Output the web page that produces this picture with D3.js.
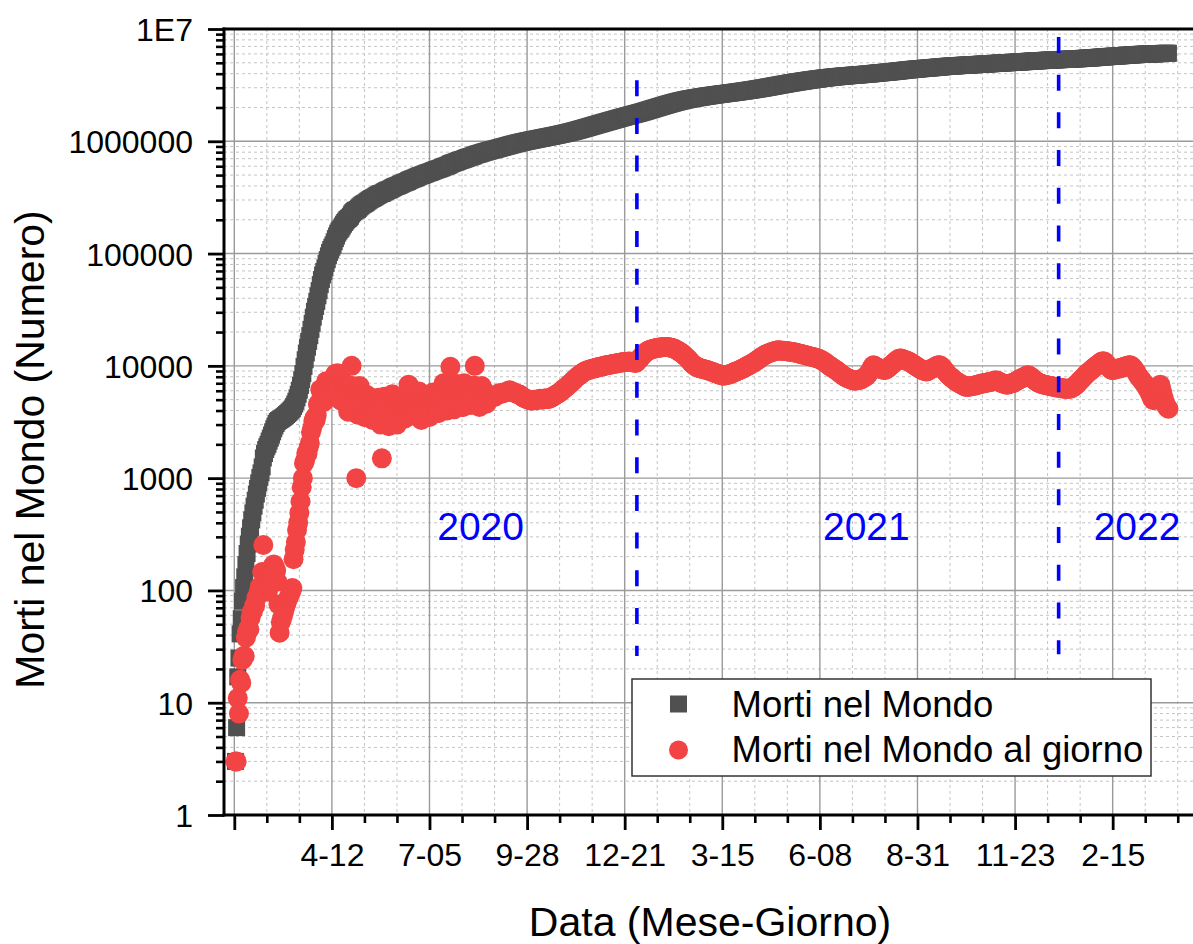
<!DOCTYPE html>
<html><head><meta charset="utf-8">
<script src="https://cdn.jsdelivr.net/npm/d3@7"></script>
<style>
html,body{margin:0;padding:0;background:#fff;}
svg{display:block;font-family:"Liberation Sans",Arial,Helvetica,sans-serif;}
</style></head><body>
<svg id="chart" width="1193" height="944"></svg>
<script>
// ---------------- data ----------------
const seriesNames = ["Morti nel Mondo", "Morti nel Mondo al giorno"];
// x = day number (day 1 = first data row); major ticks every 84 days
const tickDays = [0, 84, 168, 252, 336, 420, 504, 588, 672, 756];
const tickLabels = ["", "4-12", "7-05", "9-28", "12-21", "3-15", "6-08", "8-31", "11-23", "2-15"];
const minorTickStep = 28;
const yTickValues = [1, 10, 100, 1000, 10000, 100000, 1000000, 10000000];
const yTickLabels = ["1", "10", "100", "1000", "10000", "100000", "1000000", "1E7"];
const yearLabels = ["2020", "2021", "2022"];
const yearLabelDays = [212, 544, 777];
const yearLabelLevel = 280;
const yearBoundaryDays = [346.5, 709.5];
const yearBoundaryTop = [3.5e6, 8.5e6];
const yearBoundaryBottom = [26, 27];

// daily deaths (one value per day, day 1..804)
const dailyDeaths = [
3,3,11,8,16,15,24,
26,26,38,43,46,45,57,
64,65,73,73,86,89,97,
108,97,146,254,143,142,105,
98,139,130,150,165,170,160,
150,120,75,42,52,56,60,
66,72,77,83,88,92,98,
105,190,230,270,345,400,490,
620,830,1000,1360,1450,1670,1650,
1870,2050,2560,2790,3230,3450,3270,
3660,4520,4700,6170,5800,5820,4770,
5190,7300,6470,7120,7070,5980,5590,
5500,7800,8500,7600,8600,6300,5000,
4900,7400,7000,6500,6200,5700,3900,
4100,6200,10000,6600,5700,5100,1000,
3700,6000,6600,5600,5400,4300,3500,
3500,5500,5400,5200,5100,4400,3300,
3400,4700,5100,4800,5200,4400,3000,
1500,4200,5300,4900,4700,4000,2900,
3400,5000,5600,5100,4600,4100,3000,
3300,4800,5000,4900,4700,4300,3400,
3600,4700,6800,5200,4900,4400,3900,
3600,5300,5200,5000,5900,4600,3300,
3600,4900,4800,5300,4900,4600,3500,
3700,5500,5800,5300,5300,5100,3800,
3800,5200,5600,5300,7000,5900,4400,
4000,6500,7000,9800,6400,6200,4100,
4400,6500,6900,6300,6200,5900,4300,
4300,7000,6800,6600,6500,5800,4500,
4500,6600,6700,10000,6200,5900,4400,
4300,6300,6600,6200,5900,5500,4600,
5600,5500,5400,5300,5300,5250,5300,
5400,5500,5600,5700,5700,5650,5700,
5750,5800,5850,5900,6000,6050,5950,
5900,5850,5800,5700,5650,5600,5600,
5500,5400,5300,5200,5150,5100,5050,
5000,4950,4950,4900,4950,5000,4950,
4950,5000,5050,5100,5050,5000,5050,
5100,5150,5100,5050,5100,5150,5200,
5300,5400,5450,5550,5600,5700,5800,
5900,6000,6150,6300,6400,6500,6650,
6800,6950,7100,7250,7450,7600,7800,
7950,8100,8250,8400,8550,8700,8850,
8950,9050,9150,9200,9300,9350,9400,
9450,9500,9550,9650,9700,9750,9800,
9850,9900,9950,10050,10100,10150,10200,
10250,10300,10350,10400,10450,10500,10500,
10550,10600,10650,10700,10750,10800,10800,
10850,10900,10900,10950,10900,10850,10900,
10700,10600,10700,11000,11300,11600,11900,
12300,12600,12900,13200,13400,13600,13800,
13900,14000,14100,14200,14300,14400,14450,
14500,14550,14600,14650,14700,14700,14750,
14750,14700,14650,14600,14500,14400,14300,
14200,14000,13800,13600,13400,13200,13000,
12800,12500,12200,12000,11700,11400,11100,
10800,10500,10300,10100,9900,9800,9700,
9600,9500,9450,9400,9350,9300,9250,
9200,9100,9000,8950,8850,8800,8700,
8650,8550,8500,8400,8350,8250,8200,
8200,8200,8250,8300,8350,8400,8450,
8550,8650,8750,8850,8900,9000,9100,
9200,9300,9400,9500,9600,9750,9900,
10000,10150,10300,10400,10550,10700,10850,
11050,11250,11400,11600,11800,12000,12200,
12400,12550,12700,12850,12950,13100,13200,
13300,13400,13500,13600,13700,13750,13700,
13700,13650,13650,13600,13550,13500,13500,
13450,13400,13350,13300,13250,13200,13150,
13050,12950,12900,12800,12750,12650,12600,
12500,12450,12350,12250,12200,12100,12050,
11950,11900,11850,11750,11650,11550,11450,
11300,11150,11000,10850,10650,10450,10250,
10050,9900,9750,9600,9450,9300,9150,
9000,8850,8650,8500,8350,8200,8050,
7950,7850,7750,7700,7600,7550,7450,
7400,7400,7400,7450,7450,7500,7550,
7650,7750,7850,7950,8100,8350,8600,
8900,9300,9800,10100,10000,9800,9700,
9600,9500,9400,9350,9300,9250,9200,
9300,9450,9650,9850,10050,10250,10450,
10700,10900,11150,11350,11550,11650,11600,
11500,11400,11300,11200,11100,11000,10900,
10700,10550,10400,10200,10050,9900,9750,
9600,9450,9300,9200,9100,9000,8950,
8900,9000,9150,9300,9400,9500,9600,
9750,9900,10000,10100,10100,10000,9800,
9500,9200,8950,8700,8450,8200,8050,
7900,7750,7600,7450,7300,7200,7100,
7000,6900,6800,6750,6650,6550,6500,
6500,6500,6550,6600,6600,6650,6700,
6700,6750,6800,6850,6900,6950,6950,
7000,7050,7050,7100,7150,7200,7200,
7250,7300,7350,7400,7400,7350,7250,
7150,7050,7000,6950,6900,6850,6800,
6850,6900,6950,7000,7050,7100,7200,
7300,7400,7500,7600,7700,7750,7850,
7950,8100,8200,8250,8200,8050,7900,
7750,7600,7450,7300,7200,7100,7000,
6950,6900,6850,6800,6750,6750,6700,
6650,6600,6600,6550,6500,6500,6450,
6400,6400,6400,6350,6350,6300,6300,
6300,6250,6250,6250,6300,6300,6350,
6450,6550,6700,6850,7000,7200,7400,
7550,7750,7950,8150,8350,8550,8750,
8900,9050,9250,9450,9650,9850,10000,
10200,10400,10600,10800,10950,11000,10900,
10600,10300,10000,9700,9400,9200,9200,
9250,9300,9350,9400,9450,9500,9550,
9650,9700,9800,9850,9950,10000,10100,
10100,10000,9800,9500,9200,8900,8500,
8150,7900,7700,7450,7200,7000,6800,
6500,6250,6000,5700,5400,5100,4950,
5000,5300,5600,6000,6500,6800,6200,
5600,5100,4700,4400,4250,4150
];

// cumulative deaths (one value per day, day 1..804)
const totalDeaths = [
3,6,17,25,41,56,80,
106,132,170,213,259,304,361,
425,490,563,636,722,811,908,
1016,1113,1259,1513,1656,1798,1903,
2001,2140,2270,2420,2585,2755,2915,
3065,3185,3260,3302,3354,3410,3470,
3536,3608,3685,3768,3856,3948,4046,
4151,4341,4571,4841,5186,5586,6076,
6696,7526,8526,9886,11336,13006,14656,
16526,18576,21136,23926,27156,30606,33876,
37536,42056,46756,52926,58726,64546,69316,
74506,81806,88276,95396,102466,108446,114036,
119536,127336,135836,143436,152036,158336,163336,
168236,175636,182636,189136,195336,201036,204936,
209036,215236,225236,231836,237536,242636,243636,
247336,253336,259936,265536,270936,275236,278736,
282236,287736,293136,298336,303436,307836,311136,
314536,319236,324336,329136,334336,338736,341736,
343236,347436,352736,357636,362336,366336,369236,
372636,377636,383236,388336,392936,397036,400036,
403336,408136,413136,418036,422736,427036,430436,
434036,438736,445536,450736,455636,460036,463936,
467536,472836,478036,483036,488936,493536,496836,
500436,505336,510136,515436,520336,524936,528436,
532136,537636,543436,548736,554036,559136,562936,
566736,571936,577536,582836,589836,595736,600136,
604136,610636,617636,627436,633836,640036,644136,
648536,655036,661936,668236,674436,680336,684636,
688936,695936,702736,709336,715836,721636,726136,
730636,737236,743936,753936,760136,766036,770436,
774736,781036,787636,793836,799736,805236,809836,
815436,820936,826336,831636,836936,842186,847486,
852886,858386,863986,869686,875386,881036,886736,
892486,898286,904136,910036,916036,922086,928036,
933936,939786,945586,951286,956936,962536,968136,
973636,979036,984336,989536,994686,999786,1004836,
1009836,1014786,1019736,1024636,1029586,1034586,1039536,
1044486,1049486,1054536,1059636,1064686,1069686,1074736,
1079836,1084986,1090086,1095136,1100236,1105386,1110586,
1115886,1121286,1126736,1132286,1137886,1143586,1149386,
1155286,1161286,1167436,1173736,1180136,1186636,1193286,
1200086,1207036,1214136,1221386,1228836,1236436,1244236,
1252186,1260286,1268536,1276936,1285486,1294186,1303036,
1311986,1321036,1330186,1339386,1348686,1358036,1367436,
1376886,1386386,1395936,1405586,1415286,1425036,1434836,
1444686,1454586,1464536,1474586,1484686,1494836,1505036,
1515286,1525586,1535936,1546336,1556786,1567286,1577786,
1588336,1598936,1609586,1620286,1631036,1641836,1652636,
1663486,1674386,1685286,1696236,1707136,1717986,1728886,
1739586,1750186,1760886,1771886,1783186,1794786,1806686,
1818986,1831586,1844486,1857686,1871086,1884686,1898486,
1912386,1926386,1940486,1954686,1968986,1983386,1997836,
2012336,2026886,2041486,2056136,2070836,2085536,2100286,
2115036,2129736,2144386,2158986,2173486,2187886,2202186,
2216386,2230386,2244186,2257786,2271186,2284386,2297386,
2310186,2322686,2334886,2346886,2358586,2369986,2381086,
2391886,2402386,2412686,2422786,2432686,2442486,2452186,
2461786,2471286,2480736,2490136,2499486,2508786,2518036,
2527236,2536336,2545336,2554286,2563136,2571936,2580636,
2589286,2597836,2606336,2614736,2623086,2631336,2639536,
2647736,2655936,2664186,2672486,2680836,2689236,2697686,
2706236,2714886,2723636,2732486,2741386,2750386,2759486,
2768686,2777986,2787386,2796886,2806486,2816236,2826136,
2836136,2846286,2856586,2866986,2877536,2888236,2899086,
2910136,2921386,2932786,2944386,2956186,2968186,2980386,
2992786,3005336,3018036,3030886,3043836,3056936,3070136,
3083436,3096836,3110336,3123936,3137636,3151386,3165086,
3178786,3192436,3206086,3219686,3233236,3246736,3260236,
3273686,3287086,3300436,3313736,3326986,3340186,3353336,
3366386,3379336,3392236,3405036,3417786,3430436,3443036,
3455536,3467986,3480336,3492586,3504786,3516886,3528936,
3540886,3552786,3564636,3576386,3588036,3599586,3611036,
3622336,3633486,3644486,3655336,3665986,3676436,3686686,
3696736,3706636,3716386,3725986,3735436,3744736,3753886,
3762886,3771736,3780386,3788886,3797236,3805436,3813486,
3821436,3829286,3837036,3844736,3852336,3859886,3867336,
3874736,3882136,3889536,3896986,3904436,3911936,3919486,
3927136,3934886,3942736,3950686,3958786,3967136,3975736,
3984636,3993936,4003736,4013836,4023836,4033636,4043336,
4052936,4062436,4071836,4081186,4090486,4099736,4108936,
4118236,4127686,4137336,4147186,4157236,4167486,4177936,
4188636,4199536,4210686,4222036,4233586,4245236,4256836,
4268336,4279736,4291036,4302236,4313336,4324336,4335236,
4345936,4356486,4366886,4377086,4387136,4397036,4406786,
4416386,4425836,4435136,4444336,4453436,4462436,4471386,
4480286,4489286,4498436,4507736,4517136,4526636,4536236,
4545986,4555886,4565886,4575986,4586086,4596086,4605886,
4615386,4624586,4633536,4642236,4650686,4658886,4666936,
4674836,4682586,4690186,4697636,4704936,4712136,4719236,
4726236,4733136,4739936,4746686,4753336,4759886,4766386,
4772886,4779386,4785936,4792536,4799136,4805786,4812486,
4819186,4825936,4832736,4839586,4846486,4853436,4860386,
4867386,4874436,4881486,4888586,4895736,4902936,4910136,
4917386,4924686,4932036,4939436,4946836,4954186,4961436,
4968586,4975636,4982636,4989586,4996486,5003336,5010136,
5016986,5023886,5030836,5037836,5044886,5051986,5059186,
5066486,5073886,5081386,5088986,5096686,5104436,5112286,
5120236,5128336,5136536,5144786,5152986,5161036,5168936,
5176686,5184286,5191736,5199036,5206236,5213336,5220336,
5227286,5234186,5241036,5247836,5254586,5261336,5268036,
5274686,5281286,5287886,5294436,5300936,5307436,5313886,
5320286,5326686,5333086,5339436,5345786,5352086,5358386,
5364686,5370936,5377186,5383436,5389736,5396036,5402386,
5408836,5415386,5422086,5428936,5435936,5443136,5450536,
5458086,5465836,5473786,5481936,5490286,5498836,5507586,
5516486,5525536,5534786,5544236,5553886,5563736,5573736,
5583936,5594336,5604936,5615736,5626686,5637686,5648586,
5659186,5669486,5679486,5689186,5698586,5707786,5716986,
5726236,5735536,5744886,5754286,5763736,5773236,5782786,
5792436,5802136,5811936,5821786,5831736,5841736,5851836,
5861936,5871936,5881736,5891236,5900436,5909336,5917836,
5925986,5933886,5941586,5949036,5956236,5963236,5970036,
5976536,5982786,5988786,5994486,5999886,6004986,6009936,
6014936,6020236,6025836,6031836,6038336,6045136,6051336,
6056936,6062036,6066736,6071136,6075386,6079536
];

// ---------------- layout / style ----------------
const W = 1193, H = 944;
const plot = {left: 224, right: 1194, top: 29, bottom: 815};
const colTotal = "#505050", colDaily = "#f24444", colYear = "#0000ff";
const fontTick = 32, fontTitle = 41, fontLegend = 36.5, fontYear = 39;

const svg = d3.select("#chart");

const x = d3.scaleLinear().domain([-8.86, 826]).range([plot.left, plot.right]);
const y = d3.scaleLog().domain([1, 1e7]).range([plot.bottom, plot.top]);

const minorX = d3.range(0, 826, minorTickStep).filter(d => !tickDays.includes(d));
const minorY = [];
for (let k = 0; k < 7; k++) for (let m = 2; m <= 9; m++) minorY.push(m * Math.pow(10, k));

// ---------- grid ----------
const grid = svg.append("g");
grid.selectAll("line.mgx").data(minorX).join("line")
  .attr("x1", d => x(d)).attr("x2", d => x(d))
  .attr("y1", plot.top).attr("y2", plot.bottom)
  .attr("stroke", "#c4c4c4").attr("stroke-width", 1).attr("stroke-dasharray", "3,3");
grid.selectAll("line.mgy").data(minorY).join("line")
  .attr("x1", plot.left).attr("x2", W)
  .attr("y1", d => y(d)).attr("y2", d => y(d))
  .attr("stroke", "#c4c4c4").attr("stroke-width", 1).attr("stroke-dasharray", "3,3");
grid.selectAll("line.Mgx").data(tickDays).join("line")
  .attr("x1", d => x(d)).attr("x2", d => x(d))
  .attr("y1", plot.top).attr("y2", plot.bottom)
  .attr("stroke", "#9a9a9a").attr("stroke-width", 1.4);
grid.selectAll("line.Mgy").data(yTickValues.slice(1, -1)).join("line")
  .attr("x1", plot.left).attr("x2", W)
  .attr("y1", d => y(d)).attr("y2", d => y(d))
  .attr("stroke", "#9a9a9a").attr("stroke-width", 1.4);

// ---------- data marks ----------
const days = dailyDeaths.map((_, i) => i + 1);
const sq = 17;
svg.append("g").selectAll("rect").data(totalDeaths).join("rect")
  .attr("x", (d, i) => x(days[i]) - sq / 2)
  .attr("y", d => y(d) - sq / 2)
  .attr("width", sq).attr("height", sq)
  .attr("fill", colTotal);

svg.append("g").selectAll("circle").data(dailyDeaths).join("circle")
  .attr("cx", (d, i) => x(days[i]))
  .attr("cy", d => y(d))
  .attr("r", 10)
  .attr("fill", colDaily);

// ---------- year separators & labels ----------
svg.append("g").selectAll("line").data(yearBoundaryDays).join("line")
  .attr("x1", d => x(d)).attr("x2", d => x(d))
  .attr("y1", (d, i) => y(yearBoundaryTop[i]))
  .attr("y2", (d, i) => y(yearBoundaryBottom[i]))
  .attr("stroke", colYear).attr("stroke-width", 3.6)
  .attr("stroke-dasharray", "16,21.7");

svg.append("g").selectAll("text").data(yearLabels).join("text")
  .attr("x", (d, i) => x(yearLabelDays[i]))
  .attr("y", y(yearLabelLevel))
  .attr("text-anchor", "middle")
  .attr("font-size", fontYear)
  .attr("fill", colYear)
  .text(d => d);

// ---------- axes ----------
const axX = svg.append("g").attr("transform", `translate(0,${plot.bottom})`);
axX.call(d3.axisBottom(x).tickValues(minorX).tickSize(8).tickSizeOuter(0).tickFormat(""));
axX.call(g => g.selectAll(".tick line").attr("stroke-width", 2.6).attr("stroke", "#000"));
const axXM = svg.append("g").attr("transform", `translate(0,${plot.bottom})`);
axXM.call(d3.axisBottom(x).tickValues(tickDays).tickSize(15).tickSizeOuter(0)
  .tickFormat((d, i) => tickLabels[i]));
axXM.selectAll(".tick line").attr("stroke-width", 2.8).attr("stroke", "#000");
axXM.selectAll(".tick text").attr("y", 51).attr("dy", 0)
  .attr("font-size", fontTick).attr("font-family", "Liberation Sans, Arial, sans-serif").attr("fill", "#000");
axX.select(".domain").remove();
axXM.select(".domain").remove();

const axY = svg.append("g").attr("transform", `translate(${plot.left},0)`);
axY.call(d3.axisLeft(y).tickValues(minorY).tickSize(8).tickSizeOuter(0).tickFormat(""));
axY.selectAll(".tick line").attr("stroke-width", 2.6).attr("stroke", "#000");
axY.select(".domain").remove();
const axYM = svg.append("g").attr("transform", `translate(${plot.left},0)`);
axYM.call(d3.axisLeft(y).tickValues(yTickValues).tickSize(16).tickSizeOuter(0)
  .tickFormat((d, i) => yTickLabels[i]));
axYM.selectAll(".tick line").attr("stroke-width", 2.8).attr("stroke", "#000");
axYM.selectAll(".tick text").attr("x", -31).attr("dy", "0.36em")
  .attr("font-size", fontTick).attr("font-family", "Liberation Sans, Arial, sans-serif").attr("fill", "#000");
axYM.select(".domain").remove();

// frame lines (left, bottom, top)
const frame = svg.append("g").attr("stroke", "#000").attr("stroke-width", 3);
frame.append("line").attr("x1", plot.left).attr("x2", plot.left).attr("y1", plot.top - 1.5).attr("y2", plot.bottom + 1.5);
frame.append("line").attr("x1", plot.left - 1.5).attr("x2", W).attr("y1", plot.bottom).attr("y2", plot.bottom);
frame.append("line").attr("x1", plot.left - 1.5).attr("x2", W).attr("y1", plot.top).attr("y2", plot.top);

// ---------- axis titles ----------
svg.append("text").attr("x", 710).attr("y", 936).attr("text-anchor", "middle")
  .attr("font-size", fontTitle).attr("fill", "#000").text("Data (Mese-Giorno)");
svg.append("text").attr("transform", "translate(43.5,449.5) rotate(-90)").attr("text-anchor", "middle")
  .attr("font-size", fontTitle).attr("fill", "#000").text("Morti nel Mondo (Numero)");

// ---------- legend ----------
const lg = svg.append("g");
lg.append("rect").attr("x", 632).attr("y", 679).attr("width", 519).attr("height", 97)
  .attr("fill", "#fff").attr("stroke", "#333").attr("stroke-width", 1.5);
lg.append("rect").attr("x", 678.5 - 8.5).attr("y", 704 - 8.5).attr("width", 17).attr("height", 17).attr("fill", colTotal);
lg.append("circle").attr("cx", 678.5).attr("cy", 750).attr("r", 9.5).attr("fill", colDaily);
lg.selectAll("text").data(seriesNames).join("text")
  .attr("x", 731.5).attr("y", (d, i) => 716.5 + i * 45.5)
  .attr("font-size", fontLegend).attr("fill", "#000").text(d => d);
</script>
</body></html>
